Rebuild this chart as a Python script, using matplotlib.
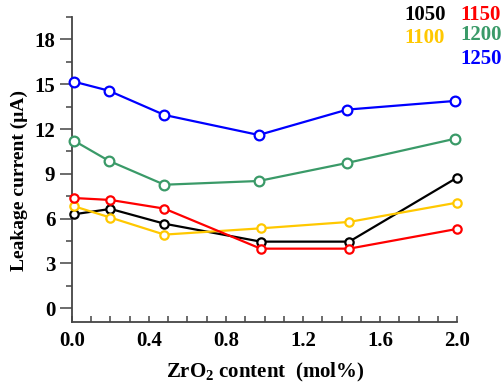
import matplotlib
matplotlib.use("Agg")
import matplotlib.pyplot as plt
from matplotlib.ticker import MultipleLocator

# data
x_blue = [0.01, 0.19, 0.48, 0.97, 1.43, 1.99]
x_small = [0.01, 0.20, 0.48, 0.98, 1.44, 2.00]
s1050 = [6.29, 6.65, 5.66, 4.46, 4.46, 8.74]
s1100 = [6.83, 6.07, 4.93, 5.35, 5.78, 7.07]
s1150 = [7.38, 7.25, 6.67, 3.99, 3.99, 5.31]
s1200 = [11.22, 9.88, 8.27, 8.52, 9.73, 11.35]
s1250 = [15.17, 14.57, 12.94, 11.60, 13.30, 13.88]
labels = ["1050", "1100", "1150", "1200", "1250"]
colors = ["#000000", "#FFC800", "#FF0000", "#3A9A68", "#0000FF"]
yticks = [0, 3, 6, 9, 12, 15, 18]
xticks = [0.0, 0.4, 0.8, 1.2, 1.6, 2.0]

plt.rcParams['font.family'] = ['Liberation Serif', 'DejaVu Serif']
plt.rcParams['font.weight'] = 'bold'
plt.rcParams['mathtext.fontset'] = 'custom'
plt.rcParams['mathtext.rm'] = 'Liberation Serif:bold'
plt.rcParams['mathtext.bf'] = 'Liberation Serif:bold'
plt.rcParams['mathtext.default'] = 'bf'

fig = plt.figure(figsize=(5.02, 3.86), dpi=100)
ax = fig.add_axes([0.1434, 0.1666, 0.7670, 0.7894])

series = [(x_small, s1050, 3.0), (x_small, s1100, 3.0), (x_small, s1150, 3.0),
          (x_blue, s1200, 3.5), (x_blue, s1250, 3.5)]
for (xs, ys, ms), c in zip(series, colors):
    ax.plot(xs, ys, color=c, lw=1.6, marker='o', ms=ms * 2, mfc='white',
            mec=c, mew=1.6, clip_on=False, zorder=3)

ax.set_xlim(0, 2.0)
ax.set_ylim(-0.9, 19.5)
ax.set_xticks(xticks)
ax.set_xticklabels([f"{v:.1f}" for v in xticks])
ax.set_yticks(yticks)
ax.xaxis.set_minor_locator(MultipleLocator(0.1))
ax.yaxis.set_minor_locator(MultipleLocator(1.5))
ax.spines['top'].set_visible(False)
ax.spines['right'].set_visible(False)
for s in ['left', 'bottom']:
    ax.spines[s].set_color('#444444')
    ax.spines[s].set_linewidth(1.3)
ax.tick_params(axis='x', which='both', direction='in', length=4, width=1.1,
               color='#444444', labelsize=15, pad=7)
ax.tick_params(axis='y', which='major', direction='out', length=9, width=1.1,
               color='#444444', labelsize=15, pad=3)
ax.tick_params(axis='y', which='minor', direction='out', length=4, width=1.1,
               color='#444444')
ax.tick_params(axis='x', which='minor', length=4)
for t in ax.get_xticklabels() + ax.get_yticklabels():
    t.set_fontweight('bold')

ax.set_xlabel("ZrO$_2$ content  (mol%)", fontsize=15, fontweight='bold')
ax.xaxis.set_label_coords(0.503, -0.128)
ax.set_ylabel("Leakage current (μA)", fontsize=14, fontweight='bold')
ax.yaxis.set_label_coords(-0.115, 0.465)

pos = {"1050": (425, 15), "1150": (481, 15), "1100": (425, 38),
       "1200": (481, 35), "1250": (481, 59)}
for lab, c in zip(labels, colors):
    px, py = pos[lab]
    fig.text(px / 502, 1 - py / 386, lab, color=c, fontsize=15, fontweight='bold',
             ha='center', va='center')

fig.savefig("out.png", dpi=100)
